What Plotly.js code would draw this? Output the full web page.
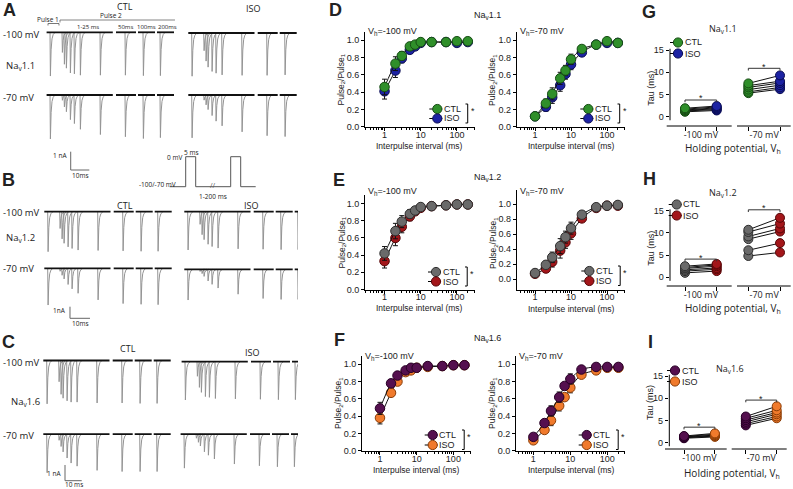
<!DOCTYPE html>
<html>
<head>
<meta charset="utf-8">
<script src="https://cdn.plot.ly/plotly-3.0.1.min.js"></script>
<style>
html,body{margin:0;padding:0;background:#ffffff;}
#chart{width:793px;height:489px;}
</style>
</head>
<body>
<div id="chart"></div>
<script>
// ================= DATA =================
// interpulse intervals (ms)
const intervals = [1, 2, 3, 5, 7, 10, 20, 50, 100, 200];

// Recovery from inactivation, Pulse2/Pulse1 (mean) and SEM
const nav11CtlVh100 = [0.46, 0.73, 0.82, 0.93, 0.95, 0.98, 0.98, 0.98, 0.99, 0.99];
const nav11IsoVh100 = [0.41, 0.65, 0.79, 0.89, 0.93, 0.97, 0.98, 0.98, 0.97, 0.98];
const nav11ErrVh100 = [0.09, 0.08, 0.05, 0.04, 0.03, 0.02, 0.02, 0.02, 0.02, 0.02];
const nav11CtlVh70  = [0.12, 0.27, 0.38, 0.56, 0.65, 0.78, 0.90, 0.95, 0.99, 0.97];
const nav11IsoVh70  = [0.12, 0.23, 0.34, 0.48, 0.61, 0.72, 0.86, 0.95, 0.97, 0.97];
const nav11ErrVh70  = [0.02, 0.05, 0.07, 0.07, 0.06, 0.06, 0.04, 0.03, 0.02, 0.02];

const nav12CtlVh100 = [0.42, 0.68, 0.79, 0.88, 0.92, 0.96, 0.97, 0.98, 0.99, 0.99];
const nav12IsoVh100 = [0.33, 0.60, 0.73, 0.85, 0.91, 0.95, 0.97, 0.98, 0.99, 0.99];
const nav12ErrVh100 = [0.08, 0.09, 0.07, 0.05, 0.03, 0.02, 0.01, 0.01, 0.01, 0.01];
const nav12CtlVh70  = [0.08, 0.19, 0.29, 0.44, 0.56, 0.68, 0.86, 0.96, 0.98, 0.99];
const nav12IsoVh70  = [0.07, 0.14, 0.23, 0.38, 0.49, 0.61, 0.81, 0.95, 0.98, 0.98];
const nav12ErrVh70  = [0.02, 0.04, 0.07, 0.10, 0.08, 0.08, 0.04, 0.02, 0.01, 0.01];

const nav16CtlVh100 = [0.49, 0.78, 0.87, 0.93, 0.96, 0.96, 0.98, 0.98, 0.99, 0.99];
const nav16IsoVh100 = [0.38, 0.67, 0.80, 0.91, 0.93, 0.96, 0.97, 0.98, 0.99, 0.99];
const nav16ErrVh100 = [0.07, 0.04, 0.04, 0.03, 0.02, 0.02, 0.02, 0.01, 0.01, 0.01];
const nav16CtlVh70  = [0.16, 0.32, 0.46, 0.62, 0.75, 0.83, 0.94, 0.97, 0.97, 0.97];
const nav16IsoVh70  = [0.12, 0.24, 0.35, 0.52, 0.62, 0.73, 0.88, 0.93, 0.96, 0.96];
const nav16ErrVh70  = [0.02, 0.03, 0.06, 0.06, 0.04, 0.06, 0.03, 0.02, 0.02, 0.02];

// Time constants of recovery, tau (ms), paired cells
const tau11CtlVh100 = [1.1, 1.3, 1.4, 1.5, 1.7, 1.9];
const tau11IsoVh100 = [1.4, 1.6, 1.8, 2.0, 2.2, 2.4];
const tau11CtlVh70  = [5.3, 5.6, 6.1, 6.6, 7.0, 7.5];
const tau11IsoVh70  = [6.2, 6.6, 7.1, 7.6, 8.0, 9.3];
const tau12CtlVh100 = [1.0, 1.4, 1.7, 2.0, 2.2, 2.5];
const tau12IsoVh100 = [1.4, 1.8, 2.1, 2.5, 2.8, 3.0];
const tau12CtlVh70  = [4.8, 6.1, 8.6, 9.2, 10.2, 10.7];
const tau12IsoVh70  = [5.6, 7.7, 10.3, 11.0, 12.1, 13.4];
const tau16CtlVh100 = [1.0, 1.1, 1.2, 1.3, 1.4, 1.5];
const tau16IsoVh100 = [1.3, 1.5, 1.6, 1.7, 1.9, 2.1];
const tau16CtlVh70  = [3.9, 4.3, 4.7, 5.1, 5.5, 5.9];
const tau16IsoVh70  = [5.5, 5.9, 6.4, 6.8, 7.3, 8.2];

// Peak current of pulse 1 in the representative traces (nA):
// order: CTL -100 mV, CTL -70 mV, ISO -100 mV, ISO -70 mV
const peakNav11 = [2.43, 2.44, 2.40, 2.38];
const peakNav12 = [3.33, 3.06, 3.19, 2.56];
const peakNav16 = [2.76, 2.53, 2.44, 2.23];

// Voltage protocol (schematic)
const protoTime = [-8, 0, 0, 5, 5, 22.5, 22.5, 27.5, 27.5, 35];
const protoVolt = [-100, -100, 0, 0, -100, -100, 0, 0, -100, -100];

// tick labels
const recTickVals = [0, 0.2, 0.4, 0.6, 0.8, 1.0];
const recTickText = ['0.0', '0.2', '0.4', '0.6', '0.8', '1.0'];
const tauTickVals = [0, 5, 10, 15];
const vhLabels = ['-100 mV', '-70 mV'];

// ================= HELPERS =================
const W = 793, H = 489;
const P = x => x / W;
const Q = y => 1 - y / H;
const FA = 'Liberation Sans, Arial, sans-serif';
const FO = 'Open Sans, DejaVu Sans, sans-serif';
const TXT = '#222';

const COL = {
  nav11: {ctl: ['#2f8f2a', '#174d14'], iso: ['#1c22a3', '#0a0c52']},
  nav12: {ctl: ['#6a6a6a', '#2e2e2e'], iso: ['#a3161a', '#560608']},
  nav16: {ctl: ['#55104f', '#280026'], iso: ['#f07a2c', '#8a3c06']}
};

const layout = {
  width: W, height: H, margin: {l: 0, r: 0, t: 0, b: 0},
  paper_bgcolor: '#ffffff', plot_bgcolor: 'rgba(0,0,0,0)',
  showlegend: false, shapes: [], annotations: [],
  font: {family: FA, color: TXT, size: 9}
};
const data = [];
let nAx = 0;
const clamp = v => Math.max(0, Math.min(1, v));

function newAxes(x0, x1, yTop, yBot, xr, yr, xo, yo) {
  nAx++;
  const s = nAx === 1 ? '' : String(nAx);
  layout['xaxis' + s] = Object.assign({domain: [clamp(P(x0)), clamp(P(x1))], range: xr, anchor: 'y' + s,
    fixedrange: true, showgrid: false, zeroline: false}, xo || {visible: false});
  layout['yaxis' + s] = Object.assign({domain: [clamp(Q(yBot)), clamp(Q(yTop))], range: yr, anchor: 'x' + s,
    fixedrange: true, showgrid: false, zeroline: false}, yo || {visible: false});
  return {xaxis: 'x' + s, yaxis: 'y' + s};
}
function txt(x, y, text, size, o) {
  o = o || {};
  layout.annotations.push({
    xref: 'paper', yref: 'paper', x: P(x), y: Q(y), text: text, showarrow: false,
    xanchor: o.xa || 'center', yanchor: o.ya || 'middle', textangle: o.angle || 0,
    font: {family: o.fam || FA, size: size, color: o.color || TXT}
  });
}
function seg(x0, y0, x1, y1, color, w) {
  layout.shapes.push({type: 'line', xref: 'paper', yref: 'paper', x0: P(x0), y0: Q(y0), x1: P(x1), y1: Q(y1),
    line: {color: color || '#000', width: w || 1}});
}
function poly(pts, color, w) {
  const d = pts.map((p, i) => (i ? 'L' : 'M') + P(p[0]).toFixed(5) + ',' + Q(p[1]).toFixed(5)).join(' ');
  layout.shapes.push({type: 'path', xref: 'paper', yref: 'paper', path: d, line: {color: color || '#000', width: w || 1}});
}
function legItem(x, y, c, label, fam) {
  seg(x - 8, y, x + 5, y, '#000', 1);
  layout.shapes.push({type: 'circle', xref: 'paper', yref: 'paper',
    x0: P(x - 4.6), x1: P(x + 4.6), y0: Q(y + 4.6), y1: Q(y - 4.6),
    fillcolor: c[0], line: {color: c[1], width: 1}});
  txt(x + 4.5, y, label, 9, {xa: 'left', fam: fam});
}

// ================= TRACES (A, B, C) =================
const PXMS = 2.0; // px per ms on the broken time axis
// display segments of the broken time axis: [start, end] in real ms, shift to display ms
const SEGS = [{a: -1.7, b: 31.4, s: 0}, {a: 50.5, b: 60.5, s: -17.5}, {a: 102.5, b: 111, s: -58.5}, {a: 203.5, b: 212, s: -150}];
const SPK_T = [0, 0.2, 0.55, 1.0, 1.6, 2.6];      // spike waveform template (ms)
const SPK_A = [0, -1, -0.4, -0.15, -0.05, 0];     // relative amplitude
function segShift(t) { for (const g of SEGS) { if (t >= g.a && t <= g.b) return g.s; } return 0; }

function tracePanel(ox, oy, pxNA, peak, fracs) {
  const xmin = -2;
  const xmax = Math.min(63, (298 - ox) / PXMS);
  const ymin = -3.6, ymax = 0.4;
  const ax = newAxes(ox + xmin * PXMS, ox + xmax * PXMS, oy - ymax * pxNA, oy - ymin * pxNA, [xmin, xmax], [ymin, ymax]);
  const bx = [], by = [], sx = [], sy = [];
  SEGS.forEach(g => { bx.push(g.a + g.s, g.b + g.s, null); by.push(0, 0, null); });
  const events = [[0, peak]].concat(intervals.map((iv, i) => [5 + iv, peak * fracs[i]]));
  events.forEach(ev => {
    const t = ev[0], a = ev[1], sh = segShift(t);
    SPK_T.forEach((d, k) => { sx.push(t + d + sh); sy.push(a * SPK_A[k]); });
    sx.push(null); sy.push(null);
  });
  data.push({type: 'scatter', mode: 'lines', x: sx, y: sy, xaxis: ax.xaxis, yaxis: ax.yaxis,
    line: {color: '#949494', width: 1}, hoverinfo: 'skip'});
  data.push({type: 'scatter', mode: 'lines', x: bx, y: by, xaxis: ax.xaxis, yaxis: ax.yaxis,
    line: {color: '#111', width: 1.8}, hoverinfo: 'skip'});
}

// Panel A (Nav1.1)
tracePanel(50, 32.3, 18, peakNav11[0], nav11CtlVh100);
tracePanel(50, 95, 18, peakNav11[1], nav11CtlVh70);
tracePanel(191.7, 33, 18, peakNav11[2], nav11IsoVh100);
tracePanel(191.7, 95, 18, peakNav11[3], nav11IsoVh70);
// Panel B (Nav1.2)
tracePanel(47.7, 211.7, 12, peakNav12[0], nav12CtlVh100);
tracePanel(47.7, 268.3, 12, peakNav12[1], nav12CtlVh70);
tracePanel(187.7, 211.7, 12, peakNav12[2], nav12IsoVh100);
tracePanel(187.7, 269.3, 12, peakNav12[3], nav12IsoVh70);
// Panel C (Nav1.6)
tracePanel(46.7, 360.5, 15.7, peakNav16[0], nav16CtlVh100);
tracePanel(46.7, 434.3, 15.7, peakNav16[1], nav16CtlVh70);
tracePanel(185, 361.7, 15.7, peakNav16[2], nav16IsoVh100);
tracePanel(184, 434.3, 15.7, peakNav16[3], nav16IsoVh70);

// voltage protocol
(function () {
  const ax = newAxes(185.7 - 10 * 2, 185.7 + 37 * 2, 153.7, 189.7, [-10, 37], [-110, 10]);
  data.push({type: 'scatter', mode: 'lines', x: protoTime, y: protoVolt, xaxis: ax.xaxis, yaxis: ax.yaxis,
    line: {color: '#555', width: 1}, hoverinfo: 'skip'});
})();

// text for A, B, C
txt(9, 10, '<b>A</b>', 18);
txt(8, 180, '<b>B</b>', 18);
txt(8, 342, '<b>C</b>', 18);
[[125, 7, 253, 8], [125, 205, 251, 205], [128, 348, 252, 352]].forEach(r => {
  txt(r[0], r[1], 'CTL', 9, {fam: FO});
  txt(r[2], r[3], 'ISO', 9, {fam: FO});
});
txt(1, 34, '-100 mV', 9.5, {xa: 'left', fam: FO});
txt(4, 66, 'Na<sub>v</sub>1.1', 9.5, {xa: 'left', fam: FO});
txt(1, 97, '-70 mV', 9.5, {xa: 'left', fam: FO});
txt(1, 212, '-100 mV', 9.5, {xa: 'left', fam: FO});
txt(4, 238, 'Na<sub>v</sub>1.2', 9.5, {xa: 'left', fam: FO});
txt(1, 268, '-70 mV', 9.5, {xa: 'left', fam: FO});
txt(1, 362, '-100 mV', 9.5, {xa: 'left', fam: FO});
txt(9, 402, 'Na<sub>v</sub>1.6', 9.5, {xa: 'left', fam: FO});
txt(1, 435, '-70 mV', 9.5, {xa: 'left', fam: FO});

// pulse annotations
txt(48, 19.5, 'Pulse 1', 6.5, {fam: FO});
txt(111, 15.5, 'Pulse 2', 6.5, {fam: FO});
poly([[48, 25.5], [48, 23.5], [59, 23.5], [59, 25.5]], '#555', 0.8);
poly([[60, 22.5], [60, 20], [175, 20]], '#666', 0.8);
txt(88, 27, '1-25 ms', 6, {fam: FO});
txt(125.5, 27, '50ms', 6, {fam: FO});
txt(146, 27, '100ms', 6, {fam: FO});
txt(167, 27, '200ms', 6, {fam: FO});
// protocol labels
txt(184, 157, '0 mV', 6.5, {xa: 'right', fam: FO});
txt(191, 152.5, '5 ms', 6.5, {fam: FO});
txt(178, 184, '-100/-70 mV', 6.5, {xa: 'right', fam: FO});
txt(213, 196.5, '1-200 ms', 6.5, {fam: FO});
txt(213, 185.8, '//', 7, {fam: FO, color: '#555'});
// scale bars
poly([[70.7, 151.7], [70.7, 170], [89.3, 170]], '#666', 1);
txt(68.5, 155, '1 nA', 6.5, {xa: 'right', fam: FO});
txt(80, 175.5, '10ms', 6.5, {fam: FO});
poly([[70, 306.7], [70, 318.3], [90, 318.3]], '#666', 1);
txt(68, 310, '1nA', 6.5, {xa: 'right', fam: FO});
txt(80, 323.5, '10ms', 6.5, {fam: FO});
poly([[65, 465], [65, 480.7], [81.7, 480.7]], '#666', 1);
txt(63, 473, '1 nA', 6.5, {xa: 'right', fam: FO});
txt(73.5, 484.3, '10 ms', 6.5, {fam: FO});

// ================= RECOVERY (D, E, F) =================
const MINOR = [0.3, 0.4, 0.5, 0.6, 0.7, 0.8, 0.9, 2, 3, 4, 5, 6, 7, 8, 9, 20, 30, 40, 50, 60, 70, 80, 90, 200, 300];
function recPanel(cfg) {
  const ax = newAxes(cfg.x0, cfg.x1, cfg.yTop, cfg.yBot, cfg.xr, cfg.yr, {
    visible: true, type: 'log', showline: true, linecolor: '#000', linewidth: 1,
    ticks: 'outside', ticklen: 3, tickwidth: 1, tickcolor: '#000', ticklabelstandoff: -4,
    tickmode: 'array', tickvals: [1, 10, 100], ticktext: ['1', '10', '100'],
    tickfont: {family: FA, size: 9, color: TXT},
    minor: {tickmode: 'array', tickvals: MINOR, ticks: 'outside', ticklen: 2, tickwidth: 1, tickcolor: '#000', showgrid: false}
  }, {
    visible: true, showline: true, linecolor: '#000', linewidth: 1,
    ticks: 'outside', ticklen: 3, tickwidth: 1, tickcolor: '#000',
    tickmode: 'array', tickvals: recTickVals, ticktext: recTickText,
    tickfont: {family: FA, size: 9, color: TXT}
  });
  [[cfg.iso, cfg.col.iso, 'ISO'], [cfg.ctl, cfg.col.ctl, 'CTL']].forEach(s => {
    data.push({type: 'scatter', mode: 'lines+markers', name: s[2], x: intervals, y: s[0],
      xaxis: ax.xaxis, yaxis: ax.yaxis,
      error_y: {type: 'data', array: cfg.err, visible: true, color: '#111', thickness: 1, width: 2.5},
      line: {color: '#111', width: 1, shape: 'spline', smoothing: 0.8},
      marker: {size: 9.5, color: s[1][0], line: {color: s[1][1], width: 1}},
      cliponaxis: false, hoverinfo: 'skip'});
  });
  txt(cfg.x0 + 1, cfg.vhY, 'V<sub>h</sub>=' + cfg.vh, 9, {xa: 'left'});
  txt(cfg.ytX, cfg.ytY, 'Pulse<sub>2</sub>/Pulse<sub>1</sub>', 8.5, {angle: -90});
  txt(cfg.xtX, cfg.xtY, 'Interpulse interval (ms)', 8.5);
  legItem(cfg.leg[0], cfg.leg[1], cfg.col.ctl, 'CTL');
  legItem(cfg.leg[0], cfg.leg[2], cfg.col.iso, 'ISO');
  const bx = cfg.brk;
  poly([[bx, cfg.leg[1] - 5], [bx + 2.2, cfg.leg[1] - 5], [bx + 2.2, cfg.leg[2] + 4.5], [bx, cfg.leg[2] + 4.5]], '#000', 1);
  txt(bx + 7, cfg.leg[1] + 1.5, '*', 9);
}

recPanel({ctl: nav11CtlVh100, iso: nav11IsoVh100, err: nav11ErrVh100, col: COL.nav11,
  x0: 365, x1: 475, yTop: 31.7, yBot: 126.7, xr: [-0.54, 2.5], yr: [0, 1.1],
  vh: '-100 mV', vhY: 31, ytX: 341.5, ytY: 80, xtX: 420, xtY: 145.5, leg: [437.3, 109, 118.5], brk: 465.5});
recPanel({ctl: nav11CtlVh70, iso: nav11IsoVh70, err: nav11ErrVh70, col: COL.nav11,
  x0: 516.7, x1: 625, yTop: 31.7, yBot: 126.7, xr: [-0.51, 2.5], yr: [0, 1.1],
  vh: '-70 mV', vhY: 31, ytX: 493, ytY: 80, xtX: 571, xtY: 145.5, leg: [588.3, 109, 118.5], brk: 617.5});
recPanel({ctl: nav12CtlVh100, iso: nav12IsoVh100, err: nav12ErrVh100, col: COL.nav12,
  x0: 365, x1: 475, yTop: 195, yBot: 289.5, xr: [-0.54, 2.5], yr: [0, 1.1],
  vh: '-100 mV', vhY: 192, ytX: 341.5, ytY: 243, xtX: 420, xtY: 307.5, leg: [436, 272, 281.5], brk: 465});
recPanel({ctl: nav12CtlVh70, iso: nav12IsoVh70, err: nav12ErrVh70, col: COL.nav12,
  x0: 516.7, x1: 625, yTop: 190, yBot: 289.5, xr: [-0.51, 2.5], yr: [-0.14, 1.19],
  vh: '-70 mV', vhY: 192, ytX: 493, ytY: 243, xtX: 571, xtY: 308.5, leg: [589.3, 271, 281], brk: 618});
recPanel({ctl: nav16CtlVh100, iso: nav16IsoVh100, err: nav16ErrVh100, col: COL.nav16,
  x0: 362, x1: 471, yTop: 355.7, yBot: 450.7, xr: [-0.49, 2.48], yr: [0, 1.1],
  vh: '-100 mV', vhY: 356, ytX: 338, ytY: 403, xtX: 416, xtY: 469.5, leg: [432.7, 435, 445], brk: 462});
recPanel({ctl: nav16CtlVh70, iso: nav16IsoVh70, err: nav16ErrVh70, col: COL.nav16,
  x0: 516, x1: 625, yTop: 355.7, yBot: 450.7, xr: [-0.47, 2.48], yr: [0, 1.1],
  vh: '-70 mV', vhY: 356, ytX: 492, ytY: 403, xtX: 571, xtY: 469.5, leg: [586.7, 435, 445], brk: 616});

txt(335, 10, '<b>D</b>', 18);
txt(339, 180, '<b>E</b>', 18);
txt(339, 340, '<b>F</b>', 18);
txt(487, 15, 'Na<sub>v</sub>1.1', 9);
txt(487, 177, 'Na<sub>v</sub>1.2', 9);
txt(487, 338, 'Na<sub>v</sub>1.6', 9);

// ================= TAU (G, H, I) =================
function tauPanel(cfg) {
  const k = cfg.k, y0 = cfg.y0px, ppm = 4.44;
  const xr = [(cfg.yAxX - cfg.x0px) / k, (cfg.xEnd - cfg.x0px) / k];
  const yr = [-(cfg.axY - y0) / ppm, 17];
  const ax = newAxes(cfg.yAxX, cfg.xEnd, y0 - 17 * ppm, cfg.axY, xr, yr, {
    visible: true, showline: false, ticks: '', tickmode: 'array', tickvals: [0.5, 2.5], ticktext: vhLabels,
    ticklabelstandoff: 2, tickfont: {family: FO, size: 9, color: TXT},
    minor: {tickmode: 'array', tickvals: [0, 1, 2, 3], ticks: 'outside', ticklen: 3.5, tickwidth: 1, tickcolor: '#000', showgrid: false}
  }, {
    visible: true, showline: false, ticks: 'outside', ticklen: 3.5, tickwidth: 1, tickcolor: '#000',
    tickmode: 'array', tickvals: tauTickVals, ticktext: tauTickVals.map(String),
    tickfont: {family: FA, size: 9, color: TXT}
  });
  // axis lines (broken x axis)
  seg(cfg.yAxX, y0 - 15.3 * ppm, cfg.yAxX, y0 + 0.8 * ppm, '#000', 1);
  seg(cfg.segs[0], cfg.axY, cfg.segs[1], cfg.axY, '#000', 1);
  seg(cfg.segs[2], cfg.axY, cfg.segs[3], cfg.axY, '#000', 1);
  // paired lines
  const pairs = [[cfg.c100, cfg.i100, 0], [cfg.c70, cfg.i70, 2]];
  const lx = [], ly = [];
  pairs.forEach(p => p[0].forEach((v, i) => { lx.push(p[2], p[2] + 1, null); ly.push(v, p[1][i], null); }));
  data.push({type: 'scatter', mode: 'lines', x: lx, y: ly, xaxis: ax.xaxis, yaxis: ax.yaxis,
    line: {color: '#111', width: 1}, hoverinfo: 'skip'});
  const mk = c => ({size: 9, color: c[0], line: {color: c[1], width: 1}});
  data.push({type: 'scatter', mode: 'markers', name: 'CTL', x: cfg.c100.map(() => 0).concat(cfg.c70.map(() => 2)),
    y: cfg.c100.concat(cfg.c70), xaxis: ax.xaxis, yaxis: ax.yaxis, marker: mk(cfg.col.ctl), cliponaxis: false, hoverinfo: 'skip'});
  data.push({type: 'scatter', mode: 'markers', name: 'ISO', x: cfg.i100.map(() => 1).concat(cfg.i70.map(() => 3)),
    y: cfg.i100.concat(cfg.i70), xaxis: ax.xaxis, yaxis: ax.yaxis, marker: mk(cfg.col.iso), cliponaxis: false, hoverinfo: 'skip'});
  // significance brackets
  [[0, cfg.b100], [2, cfg.b70]].forEach(b => {
    const x = b[0], y = b[1];
    layout.shapes.push({type: 'path', xref: ax.xaxis, yref: ax.yaxis,
      path: `M ${x},${y - 0.5} L ${x},${y} L ${x + 1},${y} L ${x + 1},${y - 0.5}`, line: {color: '#333', width: 1}});
    layout.annotations.push({xref: ax.xaxis, yref: ax.yaxis, x: x + 0.5, y: y + 0.35, text: '*', showarrow: false,
      xanchor: 'center', yanchor: 'middle', font: {family: FA, size: 9, color: TXT}});
  });
  txt(cfg.title[0], cfg.title[1], cfg.titleText, 9, {fam: FO});
  txt(cfg.yt[0], cfg.yt[1], 'Tau (ms)', 9, {angle: -90, fam: FA});
  txt(cfg.xt[0], cfg.xt[1], 'Holding potential, V<sub>h</sub>', 10, {fam: FO});
  legItem(cfg.leg[0], cfg.leg[1], cfg.col.ctl, 'CTL', FA);
  legItem(cfg.leg[0], cfg.leg[2], cfg.col.iso, 'ISO', FA);
  txt(cfg.letter[0], cfg.letter[1], '<b>' + cfg.letter[2] + '</b>', 18);
}

tauPanel({c100: tau11CtlVh100, i100: tau11IsoVh100, c70: tau11CtlVh70, i70: tau11IsoVh70, col: COL.nav11,
  x0px: 685, k: 31.67, yAxX: 670, xEnd: 791, y0px: 116.7, axY: 126, segs: [666.7, 731.7, 737, 790.7],
  b100: 3.76, b70: 10.9, title: [723, 29.5], titleText: 'Na<sub>v</sub>1.1', yt: [650.7, 88], xt: [733, 148.2],
  leg: [678, 42.5, 53.5], letter: [649, 11.5, 'G']});
tauPanel({c100: tau12CtlVh100, i100: tau12IsoVh100, c70: tau12CtlVh70, i70: tau12IsoVh70, col: COL.nav12,
  x0px: 685, k: 31.67, yAxX: 670, xEnd: 791, y0px: 277.3, axY: 286, segs: [666.7, 731.7, 737, 790.7],
  b100: 4.1, b70: 15.2, title: [723, 193], titleText: 'Na<sub>v</sub>1.2', yt: [650.7, 248], xt: [733, 308.5],
  leg: [676.7, 204.5, 215.5], letter: [649, 179, 'H']});
tauPanel({c100: tau16CtlVh100, i100: tau16IsoVh100, c70: tau16CtlVh70, i70: tau16IsoVh70, col: COL.nav16,
  x0px: 684, k: 30.9, yAxX: 669.3, xEnd: 790, y0px: 442.7, axY: 449, segs: [665, 726.7, 731.7, 786.7],
  b100: 3.5, b70: 9.6, title: [730, 369], titleText: 'Na<sub>v</sub>1.6', yt: [650, 403], xt: [732, 473.5],
  leg: [675, 370.5, 381.5], letter: [650, 342, 'I']});

Plotly.newPlot('chart', data, layout, {staticPlot: true, displayModeBar: false});
</script>
</body>
</html>
